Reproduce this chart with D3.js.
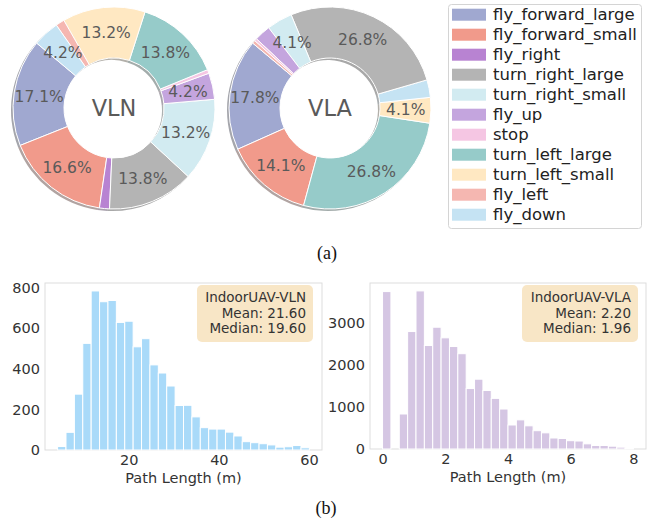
<!DOCTYPE html>
<html>
<head>
<meta charset="utf-8">
<script src="https://cdn.jsdelivr.net/npm/d3@7"></script>
<style>
  body { margin: 0; background: #fff; }
  text { font-family: "DejaVu Sans", sans-serif; }
  text.caption { font-family: "Liberation Serif", "Times New Roman", serif; }
</style>
</head>
<body>
<svg id="chart" width="652" height="520"></svg>
<script>
// action categories and their colours
const actions = ["fly_forward_large", "fly_forward_small", "fly_right", "turn_right_large",
  "turn_right_small", "fly_up", "stop", "turn_left_large", "turn_left_small", "fly_left", "fly_down"];
const actionColors = ["#A0A8D0", "#F19A8B", "#B883D2", "#B4B4B4", "#D2EBF1", "#C4A5DE",
  "#F5C6E3", "#96CBC9", "#FFE8C2", "#F5B7B1", "#C5E3F3"];

// VLN action share (%)
const vlnActions = actions;
const vlnShare = [17.1, 16.6, 1.6, 13.8, 13.2, 4.2, 0.6, 13.8, 13.2, 1.4, 4.2];

// VLA action share (%)
const vlaActions = ["fly_forward_large", "fly_forward_small", "turn_left_large", "turn_left_small",
  "fly_down", "turn_right_large", "turn_right_small", "fly_up", "stop", "fly_left"];
const vlaShare = [17.8, 14.1, 26.8, 4.1, 2.8, 26.8, 4.1, 2.6, 0.4, 0.5];

// path length histograms (30 bins each)
const vlnBinRange = [4.2, 60.1];
const vlnCounts = [17, 87, 275, 525, 783, 730, 736, 628, 634, 508, 548, 419, 379, 315, 219,
  220, 163, 110, 103, 103, 88, 69, 41, 36, 31, 25, 14, 16, 22, 11];
const vlaBinRange = [0, 8];
const vlaCounts = [3750, 0, 834, 2798, 3766, 2465, 2901, 2648, 2441, 2270, 1440, 1663, 1393,
  1206, 952, 572, 694, 552, 436, 385, 262, 250, 198, 190, 123, 83, 83, 67, 44, 16];

const vlnStats = ["IndoorUAV-VLN", "Mean: 21.60", "Median: 19.60"];
const vlaStats = ["IndoorUAV-VLA", "Mean: 2.20", "Median: 1.96"];
const vlnXTicks = [20, 40, 60];
const vlnYTicks = [0, 200, 400, 600, 800];
const vlaXTicks = [0, 2, 4, 6, 8];
const vlaYTicks = [0, 1000, 2000, 3000];

const svg = d3.select("#chart");
const colorOf = d3.scaleOrdinal().domain(actions).range(actionColors);

function donut(cx, cy, names, values, title) {
  const R = 101, r = 50;
  const g = svg.append("g").attr("transform", `translate(${cx},${cy})`);
  const rad = Math.PI / 180;
  // matplotlib-style: start at 140deg, counter-clockwise
  const pie = d3.pie().sort(null).value(d => d.v)
    .startAngle((90 - 140) * rad).endAngle((90 - 140 - 360) * rad);
  const arcs = pie(names.map((n, i) => ({ n, v: values[i] })));
  const arc = d3.arc().innerRadius(r).outerRadius(R);
  const labelArc = d3.arc().innerRadius(R * 0.75).outerRadius(R * 0.75);

  g.append("g").attr("transform", "translate(-2,2)")
    .selectAll("path").data(arcs).join("path")
    .attr("d", arc)
    .attr("fill", d => d3.rgb(colorOf(d.data.n)).darker(3))
    .attr("opacity", 0.45);

  g.append("g").selectAll("path").data(arcs).join("path")
    .attr("d", arc)
    .attr("fill", d => colorOf(d.data.n))
    .attr("stroke", "#fff")
    .attr("stroke-width", 1);

  g.append("g").selectAll("text").data(arcs.filter(d => d.data.v >= 4)).join("text")
    .attr("transform", d => `translate(${labelArc.centroid(d)})`)
    .attr("text-anchor", "middle")
    .attr("dy", "0.36em")
    .attr("font-size", 15.5)
    .attr("fill", "#5a5a5a")
    .text(d => d3.format(".1f")(d.data.v) + "%");

  g.append("text")
    .attr("text-anchor", "middle")
    .attr("dy", "0.36em")
    .attr("font-size", 22.5)
    .attr("fill", "#5a5a5a")
    .text(title);
}

donut(114, 108, vlnActions, vlnShare, "VLN");
donut(330, 108, vlaActions, vlaShare, "VLA");

// legend
const legend = svg.append("g");
legend.append("rect")
  .attr("x", 448.5).attr("y", 4.5).attr("width", 193).attr("height", 224)
  .attr("rx", 3).attr("fill", "#fff").attr("stroke", "#d4d4d4");
const items = legend.selectAll("g.item").data(actions).join("g")
  .attr("class", "item")
  .attr("transform", (d, i) => `translate(0,${14.7 + i * 20})`);
items.append("rect")
  .attr("x", 452).attr("y", -6).attr("width", 34).attr("height", 12)
  .attr("fill", d => colorOf(d));
items.append("text")
  .attr("x", 493).attr("dy", "0.33em")
  .attr("font-size", 16.5).attr("fill", "#222")
  .text(d => d);

function histogram(opts) {
  const { left, right, top, bottom, binRange, counts, color, xTicks, yTicks, stats, box } = opts;
  const n = counts.length;
  const step = (binRange[1] - binRange[0]) / n;
  const bins = counts.map((c, i) => ({ x0: binRange[0] + i * step, x1: binRange[0] + (i + 1) * step, c }));
  const pad = (binRange[1] - binRange[0]) * 0.05;
  const x = d3.scaleLinear().domain([binRange[0] - pad, binRange[1] + pad]).range([left, right]);
  const y = d3.scaleLinear().domain([0, d3.max(counts) * 1.05]).range([bottom, top]);

  svg.append("rect")
    .attr("x", left).attr("y", top).attr("width", right - left).attr("height", bottom - top)
    .attr("fill", "none").attr("stroke", "#dddddd").attr("stroke-width", 1);

  svg.append("g").selectAll("rect").data(bins.filter(b => b.c > 0)).join("rect")
    .attr("x", d => x(d.x0))
    .attr("y", d => y(d.c))
    .attr("width", d => x(d.x1) - x(d.x0))
    .attr("height", d => y(0) - y(d.c))
    .attr("fill", color)
    .attr("stroke", "#fff")
    .attr("stroke-width", 1);

  const xAxis = svg.append("g")
    .attr("transform", `translate(0,${bottom})`)
    .call(d3.axisBottom(x).tickValues(xTicks).tickSize(0).tickPadding(5).tickFormat(d3.format("d")));
  const yAxis = svg.append("g")
    .attr("transform", `translate(${left},0)`)
    .call(d3.axisLeft(y).tickValues(yTicks).tickSize(0).tickPadding(5).tickFormat(d3.format("d")));
  [xAxis, yAxis].forEach(a => {
    a.select(".domain").remove();
    a.selectAll("text").attr("font-size", 14.5).attr("fill", "#333")
      .attr("font-family", "DejaVu Sans, sans-serif");
  });

  svg.append("text")
    .attr("x", (left + right) / 2).attr("y", bottom + 33)
    .attr("text-anchor", "middle").attr("font-size", 14.5).attr("fill", "#333")
    .text("Path Length (m)");

  svg.append("rect")
    .attr("x", box[0]).attr("y", box[1]).attr("width", box[2] - box[0]).attr("height", box[3] - box[1])
    .attr("rx", 5).attr("fill", "#F5DEB3").attr("opacity", 0.75);
  svg.append("g").selectAll("text").data(stats).join("text")
    .attr("x", box[2] - 7)
    .attr("y", (d, i) => box[1] + 17 + i * 15.5)
    .attr("text-anchor", "end").attr("font-size", 13.5).attr("fill", "#333")
    .text(d => d);
}

histogram({
  left: 45, right: 322, top: 283, bottom: 450,
  binRange: vlnBinRange, counts: vlnCounts, color: "#A9DAF9",
  xTicks: vlnXTicks, yTicks: vlnYTicks, stats: vlnStats, box: [197, 285, 313, 342]
});
histogram({
  left: 370, right: 646, top: 283, bottom: 449,
  binRange: vlaBinRange, counts: vlaCounts, color: "#D5C6E3",
  xTicks: vlaXTicks, yTicks: vlaYTicks, stats: vlaStats, box: [522, 285, 638, 342]
});

// captions
svg.append("text").attr("class", "caption")
  .attr("x", 327).attr("y", 259).attr("text-anchor", "middle")
  .attr("font-size", 18).attr("fill", "#111")
  .text("(a)");
svg.append("text").attr("class", "caption")
  .attr("x", 326).attr("y", 514).attr("text-anchor", "middle")
  .attr("font-size", 18).attr("fill", "#111")
  .text("(b)");
</script>
</body>
</html>
